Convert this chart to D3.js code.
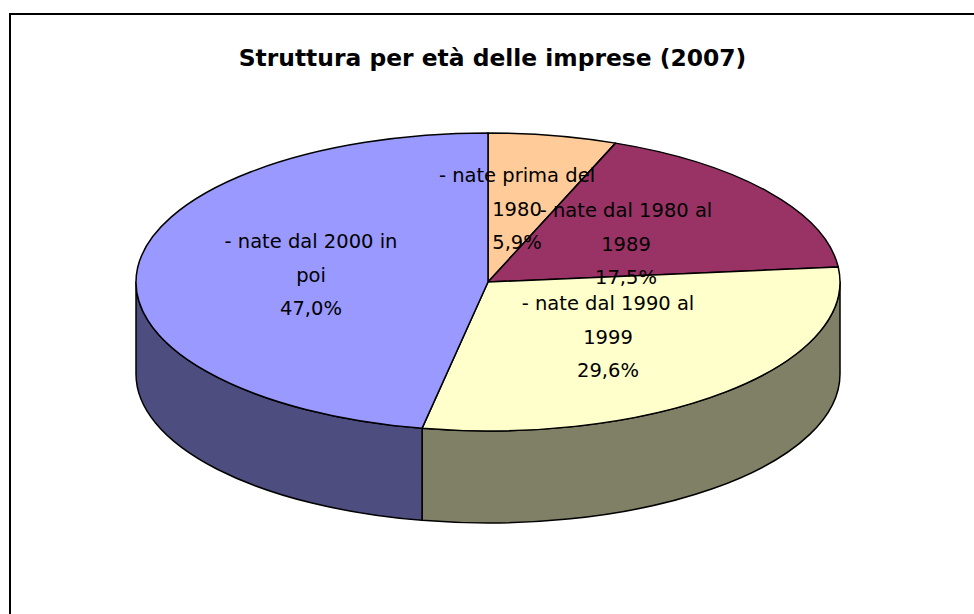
<!DOCTYPE html>
<html>
<head>
<meta charset="utf-8">
<script src="https://cdn.jsdelivr.net/npm/d3@7"></script>
<style>
html, body { margin: 0; padding: 0; background: #fff; overflow: hidden; }
svg { display: block; }
text { font-family: "DejaVu Sans", sans-serif; fill: #000; }
</style>
</head>
<body>
<svg id="chart" width="974" height="614"></svg>
<script>
var chartTitle = "Struttura per età delle imprese (2007)";
var categories = ["- nate prima del 1980", "- nate dal 1980 al 1989", "- nate dal 1990 al 1999", "- nate dal 2000 in poi"];
var values = [5.9, 17.5, 29.6, 47.0];
var labelLines = [
    ["- nate prima del", "1980", "5,9%"],
    ["- nate dal 1980 al", "1989", "17,5%"],
    ["- nate dal 1990 al", "1999", "29,6%"],
    ["- nate dal 2000 in", "poi", "47,0%"]
];
var topColors = ["#ffcc99", "#993366", "#ffffcc", "#9999ff"];
var sideColors = ["#806650", "#4d1a33", "#808066", "#4d4d80"];

var cx = 488, cy = 282, rx = 352, ry = 149, depth = 92;
var svg = d3.select("#chart");

// frame of the chart area, only left and top show, it runs off the picture
svg.append("path")
    .attr("d", "M10,614V14H974")
    .attr("fill", "none")
    .attr("stroke", "#000")
    .attr("stroke-width", 2);

svg.append("text")
    .attr("x", 492.5).attr("y", 66)
    .attr("text-anchor", "middle")
    .style("font-size", "23.4px")
    .style("font-weight", "bold")
    .text(chartTitle);

var pie = d3.pie().sort(null).value(function(d) { return d; });
var slices = pie(values);

//angle is measured clockwise from 12 o'clock, on the tilted ellipse
function px(a, dy) { return [cx + rx * Math.sin(a), cy - ry * Math.cos(a) + (dy || 0)]; }

function topPath(d) {
    var p0 = px(d.startAngle), p1 = px(d.endAngle);
    var large = d.endAngle - d.startAngle > Math.PI ? 1 : 0;
    return "M" + cx + "," + cy + "L" + p0 + "A" + rx + "," + ry + " 0 " + large + " 1 " + p1 + "Z";
}

//only the front half of the rim is visible
function sidePath(d) {
    var a0 = Math.max(d.startAngle, Math.PI / 2), a1 = Math.min(d.endAngle, Math.PI * 3 / 2);
    if (a1 <= a0) return null;
    var p0 = px(a0), p1 = px(a1), q0 = px(a0, depth), q1 = px(a1, depth);
    return "M" + p0 + "A" + rx + "," + ry + " 0 0 1 " + p1 + "L" + q1 + "A" + rx + "," + ry + " 0 0 0 " + q0 + "Z";
}

svg.append("g").selectAll("path")
    .data(slices.filter(function(d) { return sidePath(d); }))
    .enter().append("path")
    .attr("d", sidePath)
    .attr("fill", function(d) { return sideColors[d.index]; })
    .attr("stroke", "#000")
    .attr("stroke-width", 1.5)
    .attr("stroke-linejoin", "round");

svg.append("g").selectAll("path")
    .data(slices)
    .enter().append("path")
    .attr("d", topPath)
    .attr("fill", function(d) { return topColors[d.index]; })
    .attr("stroke", "#000")
    .attr("stroke-width", 1.5)
    .attr("stroke-linejoin", "round");

//label centres
var labelX = [517, 626, 608, 311];
var labelY = [175, 210, 303, 241];
var lineStep = 33.5;

var labels = svg.append("g").selectAll("text")
    .data(labelLines)
    .enter().append("text")
    .attr("text-anchor", "middle")
    .style("font-size", "19.5px");

labels.selectAll("tspan")
    .data(function(d, i) { return d.map(function(t, j) { return {t: t, i: i, j: j}; }); })
    .enter().append("tspan")
    .attr("x", function(d) { return labelX[d.i]; })
    .attr("y", function(d) { return labelY[d.i] + d.j * lineStep + 7; })
    .text(function(d) { return d.t; });
</script>
</body>
</html>
